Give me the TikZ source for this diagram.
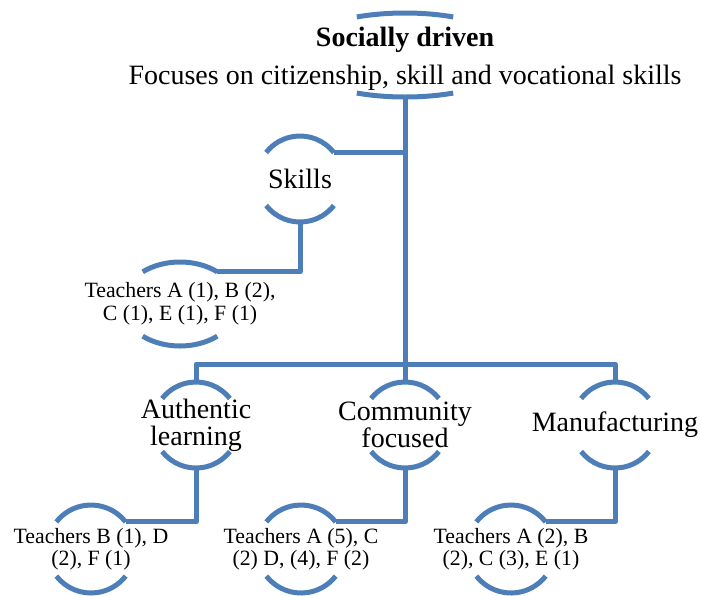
\documentclass[tikz,border=0pt]{standalone}
\usepackage{fontspec}
\setmainfont{Liberation Serif}
\definecolor{ArchBlue}{HTML}{4E7EB8}

\begin{document}
\begin{tikzpicture}[x=1pt, y=1pt,
  ringline/.style={line width=5pt, color=ArchBlue},
  link/.style={line width=5pt, color=ArchBlue, line join=round},
  bigtext/.style={align=center, inner sep=0pt, font=\fontsize{28}{27}\selectfont},
  smalltext/.style={align=center, inner sep=0pt, font=\fontsize{21.8}{22.5}\selectfont}]

 \useasboundingbox (0,0) rectangle (701,-595);

  %%%%%%%%%% Nodes %%%%%%%%%%
 \coordinate (rootC) at (405,-55);
 \node [bigtext] (root) at (405,-59) {\textbf{Socially driven}\\[11pt]Focuses on citizenship, skill and vocational skills};
 \node [bigtext] (skills) at (300,-179) {Skills};
 \node [smalltext] (teachA) at (180,-304) {Teachers A (1), B (2),\\C (1), E (1), F (1)};

 \node [bigtext] (auth) at (196,-425) {Authentic\\learning};
 \node [bigtext] (comm) at (405,-425) {Community\\focused};
 \node [bigtext] (manu) at (615,-425) {Manufacturing};

 \node [smalltext] (teachB) at (91,-549) {Teachers B (1), D\\(2), F (1)};
 \node [smalltext] (teachC) at (301,-549) {Teachers A (5), C\\(2) D, (4), F (2)};
 \node [smalltext] (teachD) at (511,-549) {Teachers A (2), B\\(2), C (3), E (1)};

  %%%%%%%%%% Arcs round the nodes %%%%%%%%%%
 \draw [ringline] (rootC) ++(65:114pt and 42pt) arc [start angle=65, end angle=115, x radius=114pt, y radius=42pt];
 \draw [ringline] (rootC) ++(245:114pt and 42pt) arc [start angle=245, end angle=295, x radius=114pt, y radius=42pt];

 \draw [ringline] (skills.center) ++(38:43pt) arc [start angle=38, end angle=142, radius=43pt];
 \draw [ringline] (skills.center) ++(218:43pt) arc [start angle=218, end angle=322, radius=43pt];

 \draw [ringline] (teachA.center) ++(50:58pt and 42pt) arc [start angle=50, end angle=130, x radius=58pt, y radius=42pt];
 \draw [ringline] (teachA.center) ++(230:58pt and 42pt) arc [start angle=230, end angle=310, x radius=58pt, y radius=42pt];

 % Layer 2
 \draw [ringline] (auth.center) ++(38:43pt) arc [start angle=38, end angle=142, radius=43pt];
 \draw [ringline] (auth.center) ++(218:43pt) arc [start angle=218, end angle=322, radius=43pt];
 \draw [ringline] (comm.center) ++(38:43pt) arc [start angle=38, end angle=142, radius=43pt];
 \draw [ringline] (comm.center) ++(218:43pt) arc [start angle=218, end angle=322, radius=43pt];
 \draw [ringline] (manu.center) ++(38:43pt) arc [start angle=38, end angle=142, radius=43pt];
 \draw [ringline] (manu.center) ++(218:43pt) arc [start angle=218, end angle=322, radius=43pt];

 % Layer 3
 \draw [ringline] (teachB.center) ++(38:44pt) arc [start angle=38, end angle=142, radius=44pt];
 \draw [ringline] (teachB.center) ++(218:44pt) arc [start angle=218, end angle=322, radius=44pt];
 \draw [ringline] (teachC.center) ++(38:44pt) arc [start angle=38, end angle=142, radius=44pt];
 \draw [ringline] (teachC.center) ++(218:44pt) arc [start angle=218, end angle=322, radius=44pt];
 \draw [ringline] (teachD.center) ++(38:44pt) arc [start angle=38, end angle=142, radius=44pt];
 \draw [ringline] (teachD.center) ++(218:44pt) arc [start angle=218, end angle=322, radius=44pt];

  %%%%%%%%%% Points for the connectors %%%%%%%%%%
 \coordinate (rootB) at ([yshift=-42pt]rootC);
 \coordinate (split) at (405,-364);
 \coordinate (skillsR) at ([shift={(38:43pt)}]skills.center);
 \coordinate (skillsB) at ([yshift=-43pt]skills.center);
 \coordinate (teachAR) at ([shift={(50:58pt and 42pt)}]teachA.center);
 \coordinate (authT) at ([yshift=43pt]auth.center);
 \coordinate (authB) at ([yshift=-43pt]auth.center);
 \coordinate (commT) at ([yshift=43pt]comm.center);
 \coordinate (commB) at ([yshift=-43pt]comm.center);
 \coordinate (manuT) at ([yshift=43pt]manu.center);
 \coordinate (manuB) at ([yshift=-43pt]manu.center);
 \coordinate (teachBR) at ([shift={(38:44pt)}]teachB.center);
 \coordinate (teachCR) at ([shift={(38:44pt)}]teachC.center);
 \coordinate (teachDR) at ([shift={(38:44pt)}]teachD.center);

  %%%%%%%%%% Connectors %%%%%%%%%%
 \draw [link] (rootB) -- (split);
 \draw [link] (skillsR) -- (skillsR -| rootB);
 \draw [link] (skillsB) |- (teachAR);

 \draw [link] (authT) |- (split) -| (manuT);
 \draw [link] (split) -- (commT);

 \draw [link] (authB) |- (teachBR);
 \draw [link] (commB) |- (teachCR);
 \draw [link] (manuB) |- (teachDR);

\end{tikzpicture}
\end{document}
